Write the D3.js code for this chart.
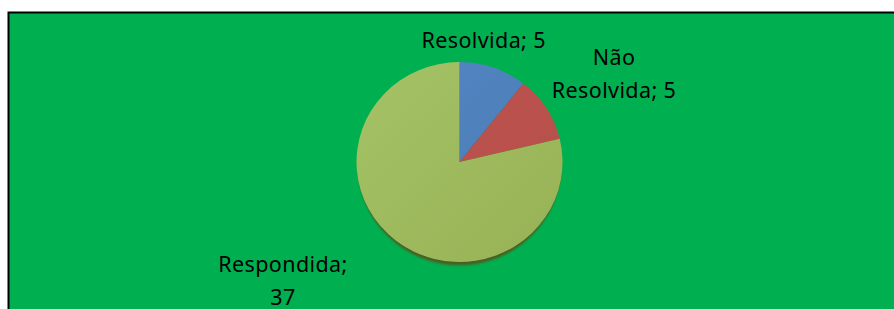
<!DOCTYPE html>
<html>
<head>
<meta charset="utf-8">
<script src="https://cdn.jsdelivr.net/npm/d3@7"></script>
<style>
  body { margin: 0; background: #fff; }
  svg { display: block; }
  .lbl { font-family: "Noto Sans", "Open Sans", sans-serif; font-size: 21.5px; fill: #000; letter-spacing: 0.4px; }
</style>
</head>
<body>
<script>
(function () {

    //chart data
    var categories = ["Resolvida", "Não Resolvida", "Respondida"];
    var values = [5, 5, 37];

    //slice colours (light, dark) for the shading
    var colors = [["#5286c4", "#4b7bb3"], ["#c0534f", "#b44f4b"], ["#a5c266", "#97b255"]];

    //label nudges from the slice's outer edge point (layout only)
    var labelNudge = [[-9.6, -19.2], [67.7, -43.2], [-112.7, 31.2]];
    var lineHeight = 33.3,
        wrapWidth = 140;

    var width = 894,
        height = 309,
        cx = 459.5,
        cy = 162,
        radius = 103,
        squash = 0.97;

    var svg = d3.select("body")
        .append("svg")
        .attr("width", width)
        .attr("height", height);

    var defs = svg.append("defs");

    //green plot frame with black border
    svg.append("rect")
        .attr("width", width)
        .attr("height", height)
        .attr("fill", "#ffffff");

    svg.append("rect")
        .attr("x", 8.5)
        .attr("y", 12.5)
        .attr("width", 1000)
        .attr("height", 400)
        .attr("fill", "#00b050")
        .attr("stroke", "#000")
        .attr("stroke-width", 2);

    //gradients for each slice
    colors.forEach(function (c, i) {
        var gr = defs.append("linearGradient")
            .attr("id", "grad" + i)
            .attr("gradientUnits", "userSpaceOnUse")
            .attr("x1", -radius).attr("y1", -radius)
            .attr("x2", radius).attr("y2", radius);
        gr.append("stop").attr("offset", "0%").attr("stop-color", c[0]);
        gr.append("stop").attr("offset", "100%").attr("stop-color", c[1]);
    });

    var blur = defs.append("filter").attr("id", "shadowBlur")
        .attr("x", "-10%").attr("y", "-10%").attr("width", "120%").attr("height", "120%");
    blur.append("feGaussianBlur").attr("stdDeviation", 1.3);

    var pie = d3.pie()
        .sort(null)
        .value(function (d) { return d; });

    var arcs = pie(values);

    var arc = d3.arc()
        .innerRadius(0)
        .outerRadius(radius);

    var pieGroup = svg.append("g")
        .attr("transform", "translate(" + cx + "," + cy + ") scale(1," + squash + ")");

    //shadow under the pie
    pieGroup.append("ellipse")
        .attr("cx", 0)
        .attr("cy", 3.5)
        .attr("rx", radius - 1.5)
        .attr("ry", radius)
        .attr("fill", "#4a5e22")
        .attr("filter", "url(#shadowBlur)");

    pieGroup.selectAll(".slice")
        .data(arcs)
        .enter()
        .append("path")
        .attr("class", "slice")
        .attr("d", arc)
        .attr("fill", function (d, i) { return "url(#grad" + i + ")"; });

    //data labels
    var labelGroup = svg.append("g")
        .attr("transform", "translate(" + cx + "," + cy + ")");

    var labels = labelGroup.selectAll(".lbl")
        .data(arcs)
        .enter()
        .append("text")
        .attr("class", "lbl")
        .attr("text-anchor", "middle");

    labels.each(function (d, i) {
        var t = d3.select(this);
        var mid = (d.startAngle + d.endAngle) / 2;
        var x = Math.sin(mid) * radius + labelNudge[i][0],
            y = -Math.cos(mid) * radius * squash + labelNudge[i][1];
        var words = (categories[i] + "; " + values[i]).split(" ");
        var lines = [], cur = "";
        var probe = t.append("tspan");
        words.forEach(function (w) {
            var test = cur ? cur + " " + w : w;
            probe.text(test);
            if (cur && probe.node().getComputedTextLength() > wrapWidth) {
                lines.push(cur);
                cur = w;
            } else {
                cur = test;
            }
        });
        lines.push(cur);
        probe.remove();
        lines.forEach(function (ln, k) {
            t.append("tspan")
                .attr("x", x)
                .attr("y", y + k * lineHeight)
                .text(ln);
        });
    });

})();
</script>
</body>
</html>
